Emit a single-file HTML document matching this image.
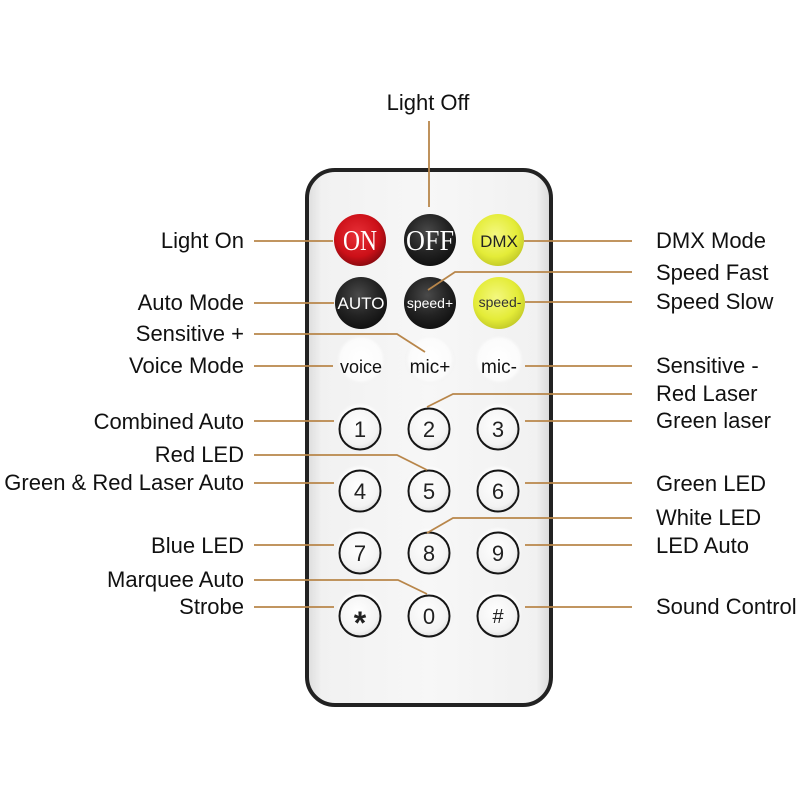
<!DOCTYPE html>
<html><head><meta charset="utf-8"><style>
html,body{margin:0;padding:0;background:#fff;}
svg{display:block;}
text{font-family:"Liberation Sans",Arial,sans-serif;}
</style></head><body>
<svg width="800" height="800" viewBox="0 0 800 800" xmlns="http://www.w3.org/2000/svg">
<defs>
<linearGradient id="body" x1="0" y1="0" x2="1" y2="0">
<stop offset="0" stop-color="#dcdcdc"/><stop offset="0.06" stop-color="#f1f1f1"/>
<stop offset="0.5" stop-color="#f7f7f7"/><stop offset="0.94" stop-color="#f1f1f1"/>
<stop offset="1" stop-color="#d8d8d8"/></linearGradient>
<radialGradient id="red" cx="0.45" cy="0.4" r="0.6">
<stop offset="0" stop-color="#e83038"/><stop offset="0.7" stop-color="#cc1018"/><stop offset="1" stop-color="#8e0a10"/></radialGradient>
<radialGradient id="blk" cx="0.45" cy="0.35" r="0.65">
<stop offset="0" stop-color="#4a4a4a"/><stop offset="0.6" stop-color="#232323"/><stop offset="1" stop-color="#111"/></radialGradient>
<radialGradient id="yel" cx="0.45" cy="0.4" r="0.6">
<stop offset="0" stop-color="#f4f880"/><stop offset="0.7" stop-color="#e4ec38"/><stop offset="1" stop-color="#c6cd2a"/></radialGradient>
<radialGradient id="key" cx="0.45" cy="0.4" r="0.6">
<stop offset="0" stop-color="#ffffff"/><stop offset="0.8" stop-color="#f3f3f3"/><stop offset="1" stop-color="#e2e2e2"/></radialGradient>
<radialGradient id="halo" cx="0.5" cy="0.45" r="0.5">
<stop offset="0" stop-color="#ffffff"/><stop offset="0.8" stop-color="#fbfbfb"/><stop offset="1" stop-color="#f0f0f0" stop-opacity="0"/></radialGradient>
</defs>

<!-- remote body -->
<rect x="307" y="170" width="244" height="535" rx="28" ry="28" fill="url(#body)" stroke="#222" stroke-width="4"/>

<!-- top buttons -->
<circle cx="360" cy="240" r="26" fill="url(#red)"/>
<circle cx="430" cy="240" r="26" fill="url(#blk)"/>
<circle cx="498" cy="240" r="26" fill="url(#yel)"/>
<circle cx="361" cy="303" r="26" fill="url(#blk)"/>
<circle cx="430" cy="303" r="26" fill="url(#blk)"/>
<circle cx="499" cy="303" r="26" fill="url(#yel)"/>

<text x="360" y="250" font-size="29" fill="#fff" text-anchor="middle" textLength="34" lengthAdjust="spacingAndGlyphs" style="font-family:'Liberation Serif',serif">ON</text>
<text x="430" y="250" font-size="29" fill="#fff" text-anchor="middle" textLength="48" lengthAdjust="spacingAndGlyphs" style="font-family:'Liberation Serif',serif">OFF</text>
<text x="499" y="247" font-size="17" fill="#222" text-anchor="middle">DMX</text>
<text x="361" y="309" font-size="17" fill="#fff" text-anchor="middle">AUTO</text>
<text x="430" y="308" font-size="14" fill="#fff" text-anchor="middle">speed+</text>
<text x="500" y="307" font-size="14" fill="#333" text-anchor="middle">speed-</text>

<!-- voice row -->
<circle cx="361" cy="362" r="26" fill="url(#halo)"/>
<circle cx="430" cy="362" r="26" fill="url(#halo)"/>
<circle cx="499" cy="362" r="26" fill="url(#halo)"/>
<text x="361" y="373" font-size="18" fill="#111" text-anchor="middle">voice</text>
<text x="430" y="373" font-size="19" fill="#111" text-anchor="middle">mic+</text>
<text x="499" y="373" font-size="19" fill="#111" text-anchor="middle">mic-</text>

<!-- number keys -->
<g>
<circle cx="360" cy="429" r="26" fill="url(#halo)"/><circle cx="429" cy="429" r="26" fill="url(#halo)"/><circle cx="498" cy="429" r="26" fill="url(#halo)"/>
<circle cx="360" cy="491" r="26" fill="url(#halo)"/><circle cx="429" cy="491" r="26" fill="url(#halo)"/><circle cx="498" cy="491" r="26" fill="url(#halo)"/>
<circle cx="360" cy="553" r="26" fill="url(#halo)"/><circle cx="429" cy="553" r="26" fill="url(#halo)"/><circle cx="498" cy="553" r="26" fill="url(#halo)"/>
<circle cx="360" cy="616" r="26" fill="url(#halo)"/><circle cx="429" cy="616" r="26" fill="url(#halo)"/><circle cx="498" cy="616" r="26" fill="url(#halo)"/>
</g>
<g fill="url(#key)" stroke="#151515" stroke-width="2">
<circle cx="360" cy="429" r="20.5"/><circle cx="429" cy="429" r="20.5"/><circle cx="498" cy="429" r="20.5"/>
<circle cx="360" cy="491" r="20.5"/><circle cx="429" cy="491" r="20.5"/><circle cx="498" cy="491" r="20.5"/>
<circle cx="360" cy="553" r="20.5"/><circle cx="429" cy="553" r="20.5"/><circle cx="498" cy="553" r="20.5"/>
<circle cx="360" cy="616" r="20.5"/><circle cx="429" cy="616" r="20.5"/><circle cx="498" cy="616" r="20.5"/>
</g>
<g font-size="22" fill="#222" text-anchor="middle">
<text x="360" y="437">1</text><text x="429" y="437">2</text><text x="498" y="437">3</text>
<text x="360" y="499">4</text><text x="429" y="499">5</text><text x="498" y="499">6</text>
<text x="360" y="561">7</text><text x="429" y="561">8</text><text x="498" y="561">9</text>
<text x="360" y="634" font-size="32" font-weight="bold">*</text><text x="429" y="624">0</text><text x="498" y="623" font-size="20">#</text>
</g>

<!-- connectors -->
<g stroke="#b8864a" stroke-width="1.8" fill="none">
<line x1="429" y1="121" x2="429" y2="207"/>
<line x1="254" y1="241" x2="333" y2="241"/>
<line x1="254" y1="303" x2="334" y2="303"/>
<polyline points="254,334 397,334 425,352"/>
<line x1="254" y1="366" x2="333" y2="366"/>
<line x1="254" y1="421" x2="334" y2="421"/>
<polyline points="254,455 397,455 427,470"/>
<line x1="254" y1="483" x2="334" y2="483"/>
<line x1="254" y1="545" x2="334" y2="545"/>
<polyline points="254,580 398,580 427,594"/>
<line x1="254" y1="607" x2="334" y2="607"/>

<line x1="524" y1="241" x2="632" y2="241"/>
<polyline points="632,272 455,272 428,290"/>
<line x1="525" y1="302" x2="632" y2="302"/>
<line x1="525" y1="366" x2="632" y2="366"/>
<polyline points="632,394 453,394 427,407"/>
<line x1="525" y1="421" x2="632" y2="421"/>
<line x1="525" y1="483" x2="632" y2="483"/>
<polyline points="632,518 453,518 427,533"/>
<line x1="525" y1="545" x2="632" y2="545"/>
<line x1="525" y1="607" x2="632" y2="607"/>
</g>

<!-- labels -->
<g font-size="22" fill="#111">
<text x="428" y="110" text-anchor="middle">Light Off</text>
<g text-anchor="end">
<text x="244" y="248">Light On</text>
<text x="244" y="310">Auto Mode</text>
<text x="244" y="341">Sensitive +</text>
<text x="244" y="373">Voice Mode</text>
<text x="244" y="429">Combined Auto</text>
<text x="244" y="462">Red LED</text>
<text x="244" y="490">Green &amp; Red Laser Auto</text>
<text x="244" y="553">Blue LED</text>
<text x="244" y="587">Marquee Auto</text>
<text x="244" y="614">Strobe</text>
</g>
<g text-anchor="start">
<text x="656" y="248">DMX Mode</text>
<text x="656" y="280">Speed Fast</text>
<text x="656" y="309">Speed Slow</text>
<text x="656" y="373">Sensitive -</text>
<text x="656" y="401">Red Laser</text>
<text x="656" y="428">Green laser</text>
<text x="656" y="491">Green LED</text>
<text x="656" y="525">White LED</text>
<text x="656" y="553">LED Auto</text>
<text x="656" y="614">Sound Control</text>
</g>
</g>
</svg>
</body></html>
